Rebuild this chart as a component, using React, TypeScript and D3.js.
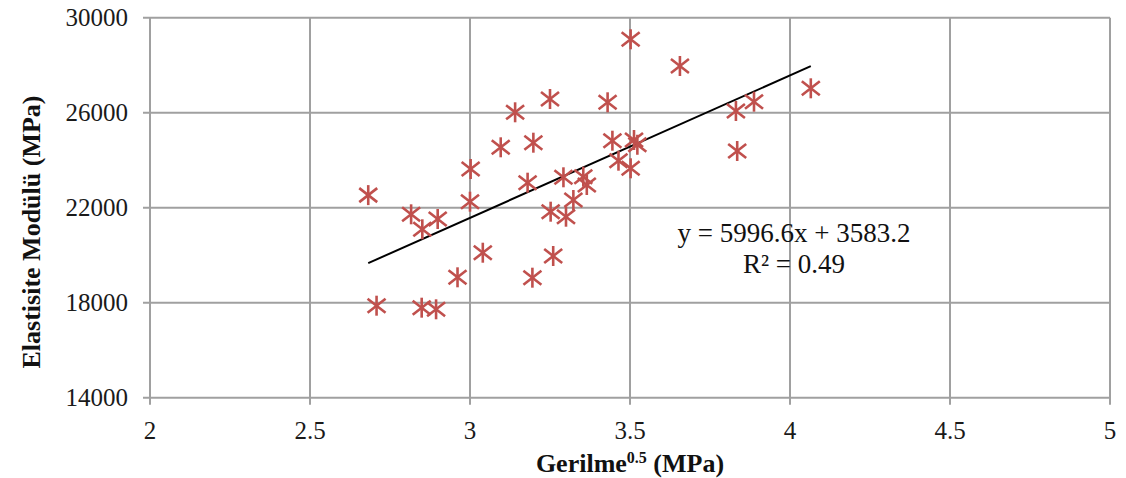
import React from "react";
import * as d3 from "d3";

const xValues = [
  2.682, 2.816, 2.851, 2.899, 2.961, 2.708, 2.849, 2.894, 3.0,
  3.141, 3.25, 3.096, 3.198, 3.002, 3.18,
  3.292, 3.354, 3.365, 3.323, 3.252, 3.3, 3.04, 3.26, 3.195, 3.464,
  3.43, 3.445, 3.5125, 3.523, 3.502,
  3.502, 3.656,
  4.065, 3.8875, 3.831, 3.835,
];
const yValues = [
  22530, 21722, 21091, 21524, 19069, 17874, 17790, 17722, 22253,
  26017, 26577, 24543, 24737, 23629, 23053,
  23280, 23305, 22956, 22324, 21832, 21621, 20105, 19966, 19053, 23979,
  26438, 24821, 24850, 24650, 23659,
  29091, 27966,
  27027, 26463, 26072, 24387,
];
const xTicks = [2, 2.5, 3, 3.5, 4, 4.5, 5];
const yTicks = [14000, 18000, 22000, 26000, 30000];
const slope = 5996.6;
const intercept = 3583.2;
const equationText = "y = 5996.6x + 3583.2";
const r2Text = "R² = 0.49";

export default function App() {
  const W = 1126;
  const H = 478;
  const x = d3.scaleLinear().domain([2, 5]).range([150, 1110]);
  const y = d3.scaleLinear().domain([14000, 30000]).range([397.7, 17.7]);
  const grid = "#a0a0a0";
  const red = "#C0504D";
  const font = "'Liberation Serif', 'Times New Roman', serif";
  const xmin = d3.min(xValues) as number;
  const xmax = d3.max(xValues) as number;
  const line = d3
    .line<number>()
    .x((d) => x(d))
    .y((d) => y(slope * d + intercept));

  return (
    <svg
      width={W}
      height={H}
      style={{ position: "absolute", left: 0, top: 0, background: "#fff" }}
      fontFamily={font}
    >
      {xTicks.map((t) => (
        <line key={"vx" + t} x1={x(t)} x2={x(t)} y1={y(30000)} y2={y(14000) + 7} stroke={grid} strokeWidth={2} />
      ))}
      {yTicks.map((t) => (
        <line key={"hy" + t} x1={x(2) - 7} x2={x(5)} y1={y(t)} y2={y(t)} stroke={grid} strokeWidth={2} />
      ))}
      {yTicks.map((t) => (
        <text key={"ty" + t} x={x(2) - 22} y={y(t)} dy="0.35em" textAnchor="end" fontSize={25} fill="#1a1a1a">
          {t}
        </text>
      ))}
      {xTicks.map((t) => (
        <text key={"tx" + t} x={x(t)} y={439} textAnchor="middle" fontSize={25} fill="#1a1a1a">
          {t}
        </text>
      ))}
      <path d={line([xmin, xmax]) as string} stroke="#000" strokeWidth={2} fill="none" />
      {xValues.map((xv, i) => {
        const cx = x(xv);
        const cy = y(yValues[i]);
        return (
          <g key={"m" + i} stroke={red} strokeWidth={2.6} strokeLinecap="butt">
            <line x1={cx - 9} y1={cy - 7} x2={cx + 9} y2={cy + 7} />
            <line x1={cx - 9} y1={cy + 7} x2={cx + 9} y2={cy - 7} />
            <line x1={cx} y1={cy - 10} x2={cx} y2={cy + 10} />
          </g>
        );
      })}
      <text x={794} y={242} textAnchor="middle" fontSize={27} fill="#111">
        {equationText}
      </text>
      <text x={794} y={273} textAnchor="middle" fontSize={27} fill="#111">
        {r2Text}
      </text>
      <text x={630} y={472} textAnchor="middle" fontSize={26} fontWeight="bold" fill="#111">
        Gerilme
        <tspan fontSize={16} dy={-9}>0.5</tspan>
        <tspan dy={9}> (MPa)</tspan>
      </text>
      <text
        transform={`translate(40, 232) rotate(-90)`}
        textAnchor="middle"
        fontSize={26}
        fontWeight="bold"
        fill="#111"
      >
        Elastisite Modülü (MPa)
      </text>
    </svg>
  );
}
